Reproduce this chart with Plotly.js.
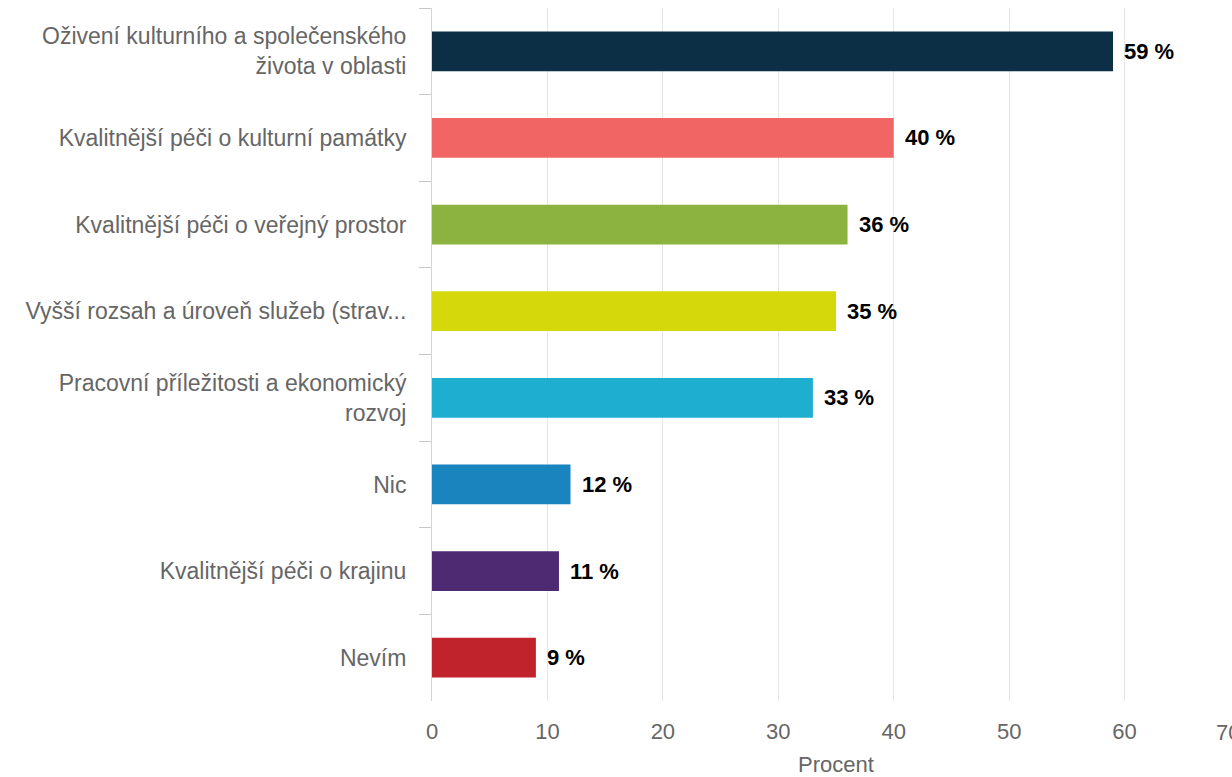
<!DOCTYPE html>
<html>
<head>
<meta charset="utf-8">
<script src="https://cdn.plot.ly/plotly-3.0.1.min.js"></script>
<style>
html,body{margin:0;padding:0;overflow:hidden;background:#fff;}
#chart{width:1250px;height:777px;}
</style>
</head>
<body>
<div id="chart"></div>
<script>
const categories = [
  "Oživení kulturního a společenského<br>života v oblasti",
  "Kvalitnější péči o kulturní památky",
  "Kvalitnější péči o veřejný prostor",
  "Vyšší rozsah a úroveň služeb (strav...",
  "Pracovní příležitosti a ekonomický<br>rozvoj",
  "Nic",
  "Kvalitnější péči o krajinu",
  "Nevím"
];
const values = [59, 40, 36, 35, 33, 12, 11, 9];
const barColors = ["#0c2f46", "#f26565", "#8cb23f", "#d5d80b", "#1eaed0", "#1984be", "#4e2a73", "#c0232c"];
const tickVals = [0, 10, 20, 30, 40, 50, 60];
const edgeTick = 70;
const xTitle = "Procent";

const trace = {
  type: "bar",
  orientation: "h",
  x: values,
  y: categories,
  marker: {color: barColors, line: {width: 0}},
  width: 0.46,
  hoverinfo: "none"
};

const annotations = values.map((v, i) => ({
  x: v, y: categories[i], xref: "x", yref: "y",
  text: v + " %", showarrow: false, xanchor: "left", yanchor: "middle",
  xshift: 9,
  font: {family: "Liberation Sans, Arial, sans-serif", size: 22, color: "#000", weight: "bold"}
}));
annotations.push({
  x: edgeTick, y: 0, xref: "x", yref: "paper",
  text: String(edgeTick), showarrow: false, xanchor: "center", yanchor: "top",
  xshift: -12, yshift: -17,
  font: {family: "Liberation Sans, Arial, sans-serif", size: 22, color: "#666666"}
});

const layout = {
  width: 1250, height: 777,
  margin: {l: 432, r: 10, t: 8, b: 76},
  paper_bgcolor: "#fff", plot_bgcolor: "#fff",
  showlegend: false,
  font: {family: "Liberation Sans, Arial, sans-serif", color: "#666666"},
  xaxis: {
    range: [0, 70],
    tickvals: tickVals,
    showgrid: true, gridcolor: "#e6e6e6", gridwidth: 1,
    zeroline: false, showline: false, ticks: "",
    ticklabelstandoff: 15,
    tickfont: {size: 22, color: "#666666"},
    title: {text: xTitle, font: {size: 22, color: "#666666"}, standoff: 16}
  },
  yaxis: {
    type: "category",
    autorange: "reversed",
    showgrid: false, zeroline: false,
    showline: true, linecolor: "#ccd6eb", linewidth: 1,
    ticks: "outside", tickson: "boundaries", ticklen: 12, tickcolor: "#c8c8c8",
    ticklabelstandoff: 20,
    tickfont: {size: 23, color: "#666666"}
  },
  annotations: annotations
};

Plotly.newPlot("chart", [trace], layout, {displayModeBar: false, staticPlot: true});
</script>
</body>
</html>
